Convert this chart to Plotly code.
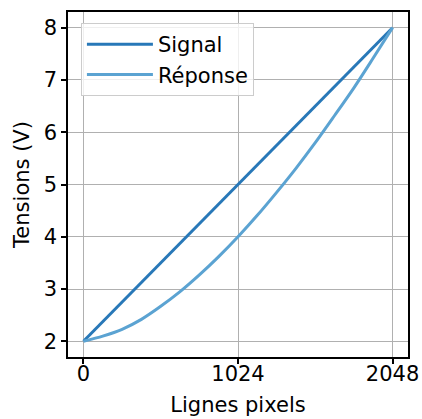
import plotly.graph_objects as go

x_pixels = [0, 128, 256, 384, 512, 640, 768, 896, 1024, 1152, 1280, 1408, 1536, 1664, 1792, 1920, 2048]
signal = [2.0, 2.375, 2.75, 3.125, 3.5, 3.875, 4.25, 4.625, 5.0, 5.375, 5.75, 6.125, 6.5, 6.875, 7.25, 7.625, 8.0]
reponse = [2.0, 2.1, 2.23, 2.42, 2.67, 2.95, 3.27, 3.62, 4.0, 4.41, 4.85, 5.31, 5.8, 6.32, 6.85, 7.42, 8.0]
x_ticks = [0, 1024, 2048]
y_ticks = [2, 3, 4, 5, 6, 7, 8]

FONT = "DejaVu Sans"
FS = 21

fig = go.Figure()
fig.add_trace(go.Scatter(x=x_pixels, y=signal, mode="lines", name="Signal",
                         line=dict(color="#2878b8", width=3)))
fig.add_trace(go.Scatter(x=x_pixels, y=reponse, mode="lines", name="Réponse",
                         line=dict(color="#5ba3d2", width=3, shape="spline", smoothing=0.8)))

axis_common = dict(showline=True, linecolor="black", linewidth=1.5, mirror=True,
                   ticks="outside", ticklen=5, tickwidth=1.5, tickcolor="black",
                   showgrid=True, gridcolor="#b0b0b0", gridwidth=1.2, zeroline=False,
                   tickfont=dict(family=FONT, size=FS, color="black"))

fig.update_xaxes(range=[-102.4, 2150.4], tickvals=x_ticks, ticktext=[str(v) for v in x_ticks],
                 ticklabelstandoff=-8,
                 title=dict(text="Lignes pixels", font=dict(family=FONT, size=FS, color="black"), standoff=12),
                 **axis_common)
fig.update_yaxes(range=[1.7, 8.3], tickvals=y_ticks,
                 title=dict(text="Tensions (V)", font=dict(family=FONT, size=FS, color="black"), standoff=8),
                 **axis_common)

fig.update_layout(
    width=422, height=419,
    margin=dict(l=68, r=14, t=12, b=62, autoexpand=False),
    plot_bgcolor="white", paper_bgcolor="white",
    font=dict(family=FONT, size=FS, color="black"),
    legend=dict(x=0.038, y=0.968, xanchor="left", yanchor="top",
                bgcolor="rgba(255,255,255,0.8)", bordercolor="#cccccc", borderwidth=1,
                font=dict(family=FONT, size=FS, color="black"), itemwidth=66,
                tracegroupgap=4),
)

fig.write_html("out.html", config={"displayModeBar": False},
               post_script="document.body.style.margin='0px';")
